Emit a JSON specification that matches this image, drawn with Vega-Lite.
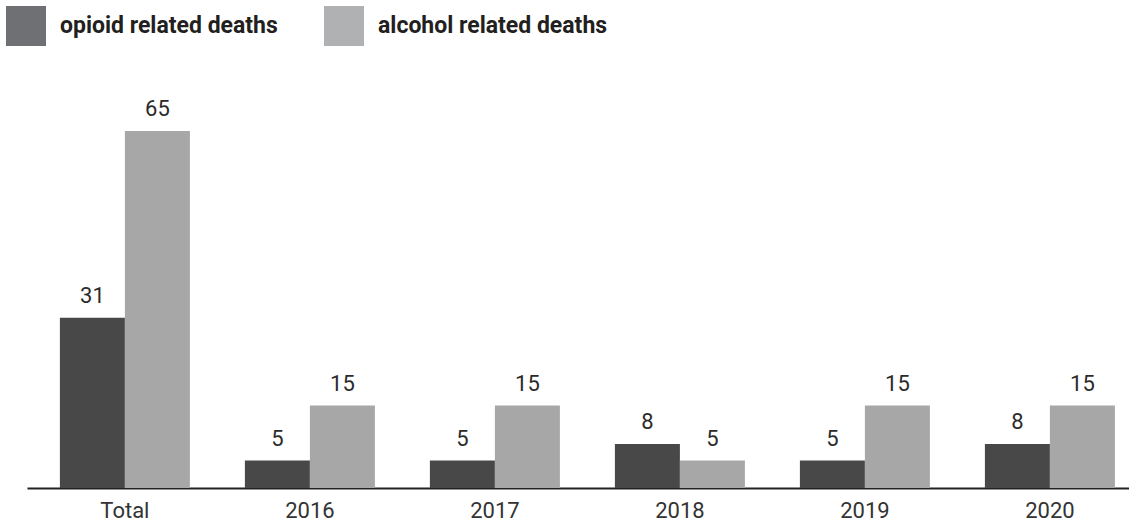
{
  "$schema": "https://vega.github.io/schema/vega-lite/v6.json",
  "autosize": "none",
  "width": 1102,
  "height": 357,
  "padding": {"left": 27, "top": 131, "right": 0, "bottom": 34},
  "background": "white",
  "config": {"view": {"stroke": null}},
  "data": {
    "values": [
      {"group": "Total", "series": "opioid related deaths", "value": 31},
      {"group": "Total", "series": "alcohol related deaths", "value": 65},
      {"group": "2016", "series": "opioid related deaths", "value": 5},
      {"group": "2016", "series": "alcohol related deaths", "value": 15},
      {"group": "2017", "series": "opioid related deaths", "value": 5},
      {"group": "2017", "series": "alcohol related deaths", "value": 15},
      {"group": "2018", "series": "opioid related deaths", "value": 8},
      {"group": "2018", "series": "alcohol related deaths", "value": 5},
      {"group": "2019", "series": "opioid related deaths", "value": 5},
      {"group": "2019", "series": "alcohol related deaths", "value": 15},
      {"group": "2020", "series": "opioid related deaths", "value": 8},
      {"group": "2020", "series": "alcohol related deaths", "value": 15}
    ]
  },
  "encoding": {
    "x": {
      "field": "group",
      "type": "nominal",
      "sort": ["Total", "2016", "2017", "2018", "2019", "2020"],
      "scale": {"paddingInner": 0.2973, "paddingOuter": 0.127, "align": 0.7},
      "axis": {
        "title": null,
        "labelAngle": 0,
        "ticks": false,
        "domainColor": "#222222",
        "domainWidth": 2,
        "labelFont": "Roboto",
        "labelFontSize": 22,
        "labelColor": "#333333",
        "labelPadding": 12,
        "grid": false
      }
    },
    "xOffset": {
      "field": "series",
      "type": "nominal",
      "sort": ["opioid related deaths", "alcohol related deaths"],
      "scale": {"paddingInner": 0, "paddingOuter": 0}
    },
    "y": {
      "field": "value",
      "type": "quantitative",
      "scale": {"domain": [0, 65], "nice": false, "zero": true},
      "axis": null
    }
  },
  "resolve": {"scale": {"color": "independent"}, "legend": {"color": "independent"}},
  "layer": [
    {
      "mark": {"type": "bar", "opacity": 0},
      "encoding": {
        "color": {
          "field": "series",
          "type": "nominal",
          "sort": ["opioid related deaths", "alcohol related deaths"],
          "scale": {"domain": ["opioid related deaths", "alcohol related deaths"], "range": ["#6f7073", "#b0b1b3"]},
          "legend": {
            "title": null,
            "orient": "none",
            "legendX": -21,
            "legendY": -125,
            "direction": "horizontal",
            "symbolType": "square",
            "symbolSize": 1600,
            "symbolStrokeWidth": 0,
            "symbolOpacity": 1,
            "labelOffset": 14,
            "labelFont": "Roboto",
            "labelFontWeight": "bold",
            "labelFontSize": 23,
            "labelColor": "#231f20",
            "labelLimit": 400,
            "columnPadding": 46,
            "padding": 0
          }
        }
      }
    },
    {
      "mark": {"type": "bar"},
      "encoding": {
        "color": {
          "field": "series",
          "type": "nominal",
          "sort": ["opioid related deaths", "alcohol related deaths"],
          "scale": {"domain": ["opioid related deaths", "alcohol related deaths"], "range": ["#484848", "#a7a7a7"]},
          "legend": null
        }
      }
    },
    {
      "mark": {"type": "text", "baseline": "alphabetic", "dy": -15, "font": "Roboto", "fontSize": 22, "color": "#2b2b2b"},
      "encoding": {
        "text": {"field": "value", "type": "quantitative"}
      }
    }
  ]
}
